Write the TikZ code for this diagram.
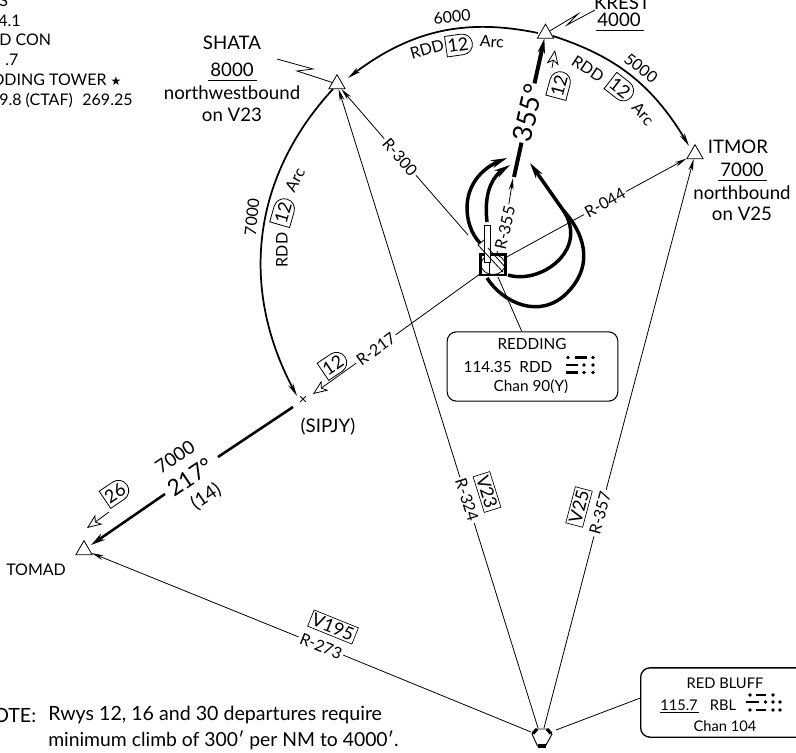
\documentclass[tikz,border=0pt]{standalone}
\usepackage{fontspec}
\setmainfont{Lato}
\usetikzlibrary{arrows.meta,shapes.geometric,shapes.misc,bending}
\tikzset{
  fix/.style={regular polygon,regular polygon sides=3,draw,fill=white,line width=.6pt,inner sep=0pt,minimum size=14pt},
  txt/.style={inner sep=0pt,font=\fontsize{14pt}{16pt}\selectfont},
  lbl/.style={inner sep=1.5pt,fill=white,font=\fontsize{12pt}{14pt}\selectfont},
  plain/.style={inner sep=0pt,font=\fontsize{12pt}{14pt}\selectfont},
  airway/.style={draw,line width=.5pt,fill=white,inner sep=1.6pt,font=\fontsize{13.5pt}{15pt}\selectfont},
  dme/.style={draw,line width=.6pt,fill=white,rounded rectangle,rounded rectangle left arc=none,inner sep=1pt,minimum height=15.5pt,minimum width=22pt,font=\fontsize{13.5pt}{15pt}\selectfont},
  radial/.style={line width=.6pt},
  radarrow/.style={radial,-{Stealth[length=9pt,width=3.6pt]}},
  arcline/.style={line width=1.3pt,-{Stealth[length=10pt,width=4pt]}},
  track/.style={line width=1.9pt},
  trackarrow/.style={track,-{Stealth[length=11pt,width=5.5pt]}},
  leadopen/.style={line width=.6pt,-{Stealth[open,fill=white,length=11pt,width=9pt,inset=3pt]}},
  turn/.style={line width=2.6pt,-{Stealth[length=12pt,width=6pt,flex]}},
  infobox/.style={draw,line width=.8pt,rounded corners=7pt,inner sep=0pt},
  comm/.style={line width=.6pt},
  morsedash/.style={line width=1.9pt},
}
\newcommand{\mdot}[2]{\fill (#1,#2) circle[radius=1.8];}
\newcommand{\mdash}[3]{\draw[morsedash] (#1,#3) -- (#2,#3);}
\begin{document}
\begin{tikzpicture}[x=.75pt,y=-.75pt]
\useasboundingbox (0,0) rectangle (796,753);
\clip (0,0) rectangle (796,753);
% header texts, cut by the page edge
\node[plain,anchor=west] (h1) at (-1,1) {S};
\node[plain,anchor=west] (h2) at (-2,21) {4.1};
\node[plain,anchor=west] (h3) at (-1,40) {D CON};
\node[plain,anchor=west] (h4) at (5,60) {.7};
\node[plain,anchor=west] (h5) at (-8,80) {DDING TOWER \fontspec{DejaVu Sans}\fontsize{9pt}{9pt}\selectfont ★};
\node[plain,anchor=west] (h6) at (-1,100) {9.8 (CTAF)\hspace{.6em}269.25};
% fixes
\node[fix] (krest) at (545.5,33.5) {};
\node[fix] (itmor) at (695,154) {};
\node[fix] (shata) at (337,84) {};
\node[fix] (tomad) at (84,550) {};
\coordinate (sipjyIn) at (297,396);
\coordinate (sipjyOut) at (293,407);
\node[inner sep=0pt,font=\fontsize{11pt}{11pt}\selectfont] (sipjy) at (303,400.5) {×};
\coordinate (krestW) at (538,33);
\coordinate (krestE) at (553,36);
\coordinate (shataE) at (348,78);
\coordinate (shataS) at (333,89);
\coordinate (itmorN) at (689,146);
% arcs
\draw[arcline] (krestW) to[bend right=25] (shataE);
\draw[arcline] (krestE) to[bend left=21] (itmorN);
\draw[arcline] (shataS) to[bend right=36] (sipjyIn);
% VOR
\node[draw,line width=2pt,fill=white,minimum width=18.5pt,minimum height=15.5pt,inner sep=0pt] (vor) at (493,264.5) {};
\coordinate (r300s) at (468,235);
\coordinate (r355s) at (497,253);
\coordinate (redrop) at (498,277);
% RBL VOR
\coordinate (rbl) at (541,737);
\coordinate (rblA) at (531,732);
\coordinate (rblB) at (538,728);
\coordinate (rblC) at (544,728);
\coordinate (rblD) at (556,730);
\draw[line width=.7pt,fill=white] (536.5,729) -- (547,729) -- (552,734) -- (545.5,746) -- (537.5,746) -- (532,734) -- cycle;
\draw[line width=2.4pt] (537,729) -- (533,733.5);
\draw[line width=2.4pt] (547,729) -- (551,733.5);
\draw[line width=3.5pt] (537.5,746) -- (545.5,746);
% radial labels
\node[lbl,rotate=-49] (l300) at (400,157) {R-300};
\node[lbl,rotate=77] (l355) at (505,228) {R-355};
\node[lbl,rotate=29] (l044) at (605,203) {R-044};
\node[lbl,rotate=36] (l217) at (376,349) {R-217};
\node[lbl,rotate=-72.6] (l324) at (467,500) {R-324};
\node[lbl,rotate=75] (l357) at (600,513) {R-357};
\node[lbl,rotate=-22] (l273) at (321,646) {R-273};
% radials
\draw[radial] (r300s) -- (l300);
\draw[radarrow] (l300) -- (shata);
\draw[radial] (r355s) -- (l355);
\coordinate (t355) at (513,178);
\draw[radarrow] (l355) -- (t355);
\draw[radial] (vor) -- (l044);
\draw[radarrow] (l044) -- (itmor);
\draw[radial] (vor) -- (l217);
\coordinate (t217) at (313,394);
\draw[leadopen] (l217) -- (t217);
\draw[radial] (rblB) -- (l324);
\draw[radarrow] (l324) -- (shata);
\draw[radial] (rblC) -- (l357);
\draw[radarrow] (l357) -- (itmor);
\draw[radial] (rblA) -- (l273);
\draw[radarrow] (l273) -- (tomad);
% thick tracks
\node[fill=white,rotate=77,font=\fontsize{20pt}{22pt}\selectfont,inner sep=1pt] (h355) at (528,113) {355°};
\coordinate (tk355a) at (514,177);
\draw[track,line width=3pt] (tk355a) -- (h355);
\draw[trackarrow,line width=3pt] (h355) -- (krest);
\coordinate (tk217b) at (91,545);
\node[inner sep=0pt,rotate=34,font=\fontsize{14pt}{16pt}\selectfont] (a7000) at (175,457) {7000};
\node[inner sep=0pt,rotate=34,font=\fontsize{17pt}{19pt}\selectfont] (c217) at (190,477) {217°};
\node[inner sep=0pt,rotate=34,font=\fontsize{14pt}{16pt}\selectfont] (d14) at (206,497) {(14)};
\coordinate (tk217m1) at (218,457);
\coordinate (tk217m2) at (165,494);
\draw[track] (sipjyOut) -- (tk217m1);
\draw[trackarrow] (tk217m2) -- (tk217b);
% distance boxes
\coordinate (b355) at (552,68);
\coordinate (t355b) at (555,50);
\draw[leadopen] (b355) -- (t355b);
\node[dme,rotate=75] (d355) at (559,86) {12};
\node[dme,rotate=34] (d217) at (333,365) {12};
\coordinate (b26) at (109,512);
\coordinate (t26) at (87,528);
\draw[leadopen] (b26) -- (t26);
\node[dme,rotate=34] (d26) at (115,493) {26};
% arc labels
\node[plain,rotate=6] at (452,17) {6000};
\node[plain,rotate=16] at (427,49) {RDD};
\node[dme,rotate=8] at (458,45) {12};
\node[plain,rotate=-4] at (492,42) {Arc};
\node[plain,rotate=-38] at (641,68) {5000};
\node[plain,rotate=-33] at (588,69) {RDD};
\node[dme,rotate=-38] at (620,88) {12};
\node[plain,rotate=-48] at (643,114) {Arc};
\node[plain,rotate=84] at (252,217) {7000};
\node[plain,rotate=90] at (282,250) {RDD};
\node[dme,rotate=74] at (283,213) {12};
\node[plain,rotate=62] at (295,180) {Arc};
% airway boxes
\node[airway,rotate=-72.6] (v23) at (487,492) {V23};
\node[airway,rotate=75] (v25) at (579,507) {V25};
\node[airway,rotate=-22] (v195) at (333,627) {V195};
% fix texts
\node[txt] (tshata) at (232,43) {SHATA};
\node[txt] (t8000) at (232,70) {8000};
\draw[line width=.6pt] (208,80) -- (257,80);
\node[txt] at (232,93) {northwestbound};
\node[txt] at (232,115) {on V23};
\node[txt] (tkrest) at (622,3) {KREST};
\node[txt] (t4000) at (619,20) {4000};
\draw[line width=.6pt] (596,30) -- (644,30);
\node[txt] (titmor) at (738,147) {ITMOR};
\node[txt] (t7000) at (742,170) {7000};
\draw[line width=.6pt] (718,180) -- (767,180);
\node[txt] at (742,193) {northbound};
\node[txt] at (742,214) {on V25};
\node[txt,anchor=west,font=\fontsize{12pt}{14pt}\selectfont] (ttomad) at (6,570) {TOMAD};
\node[plain,font=\fontsize{14pt}{16pt}\selectfont] (tsipjy) at (328,427) {(SIPJY)};
% comm zigzags
\draw[comm] (krest) -- (578,14) -- (567,25) -- (595,10);
\draw[comm] (277,59) -- (313,69) -- (297,71) -- (shata);
% VOR interior
\draw[radial] (493,264.5) ellipse[x radius=12,y radius=10];
\draw[line width=.6pt,fill=white] (484,225) rectangle (490,262);
\draw[line width=.6pt] (478,245) -- (484,240);
\draw[line width=.6pt] (478,245) -- (503,272);
\draw[line width=.6pt] (488,248) -- (506,268);
\draw[line width=.6pt] (489,262) -- (489,275);
% procedure turns
\draw[turn] (480,243) .. controls (462,225) and (456,175) .. (507,158);
\draw[turn] (487,222) .. controls (484,195) and (490,175) .. (510,165);
\draw[turn] (508,275) .. controls (540,285) and (590,250) .. (563,210) -- (530,163);
\draw[line width=2.6pt] (487,278) .. controls (503,303) and (540,320) .. (567,293) .. controls (590,270) and (590,240) .. (563,210);
% info boxes
\node[infobox,minimum width=128pt,minimum height=52pt] (redding) at (532.5,366.5) {};
\node[txt,font=\fontsize{11.5pt}{13pt}\selectfont] at (532,344) {REDDING};
\node[txt,font=\fontsize{11.5pt}{13pt}\selectfont] at (508,367) {114.35\hspace{.5em}RDD};
\node[txt,font=\fontsize{11.5pt}{13pt}\selectfont] at (531,387) {Chan 90(Y)};
\draw[radial] (redrop) -- (redding.107);
\mdot{568}{357.5}\mdash{575}{587}{357.5}\mdot{593}{357.5}
\mdash{566}{578}{365}\mdot{584}{365}\mdot{593}{365}
\mdash{566}{578}{372.5}\mdot{584}{372.5}\mdot{593}{372.5}
\node[infobox,minimum width=124pt,minimum height=52pt,anchor=west,line width=1pt] (redbluff) at (640,702.5) {};
\node[txt,font=\fontsize{11pt}{13pt}\selectfont] at (725,683) {RED BLUFF};
\node[txt,font=\fontsize{11pt}{13pt}\selectfont] at (679,705) {115.7};
\draw[line width=.6pt] (660,712) -- (699,712);
\node[txt,font=\fontsize{11pt}{13pt}\selectfont] at (723,705) {RBL};
\node[txt,font=\fontsize{11pt}{13pt}\selectfont] at (725,726) {Chan 104};
\draw[radial] (rblD) -- (redbluff.177);
\mdot{750}{695}\mdash{756}{766}{695}\mdot{773}{695}
\mdash{746}{759}{702}\mdot{765.5}{702}\mdot{773}{702}\mdot{780}{702}
\mdot{750}{710}\mdash{756}{766}{710}\mdot{773}{710}\mdot{780}{710}
% note
\node[txt,anchor=west,font=\fontsize{14.7pt}{16pt}\selectfont] (note) at (-7,715) {OTE:};
\node[txt,anchor=west,font=\fontsize{14.7pt}{16pt}\selectfont] (note1) at (48,715) {Rwys 12, 16 and 30 departures require};
\node[txt,anchor=west,font=\fontsize{14.5pt}{16pt}\selectfont] (note2) at (48,740) {minimum climb of 300′ per NM to 4000′.};
\end{tikzpicture}
\end{document}
